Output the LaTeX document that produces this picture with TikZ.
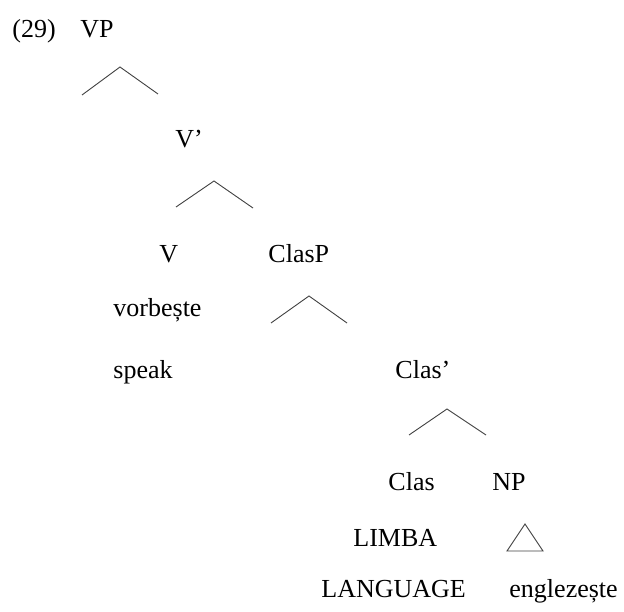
\documentclass[tikz,border=0pt]{standalone}
\usepackage{fontspec}
\setmainfont{Liberation Serif}
\begin{document}
\begin{tikzpicture}[
    x=1pt, y=-1pt,
    line width=0.9pt,
    color=black!75,
    every node/.style={text=black, font=\fontsize{26}{30}\selectfont, anchor=base west, inner sep=0pt}
]
    \useasboundingbox (0,0) rectangle (624,612);

    % Labels, placed at their baselines
    \node (ex)      at (12,38)   {(29)};
    \node (VP)      at (80,38)   {VP};
    \node (Vbar)    at (175,148) {V’};
    \node (V)       at (159,263) {V};
    \node (ClasP)   at (268,263) {ClasP};
    \node (vorb)    at (113,317) {vorbește};
    \node (speak)   at (113,378) {speak};
    \node (Clasbar) at (395,378) {Clas’};
    \node (Clas)    at (388,490) {Clas};
    \node (NP)      at (492,490) {NP};
    \node (limba)   at (353,546) {LIMBA};
    \node (lang)    at (321,597) {LANGUAGE};
    \node (engl)    at (509,597) {englezește};

    % Define Coordinates for the branchings
    \coordinate (aL) at (82,95);   \coordinate (aT) at (120,67);  \coordinate (aR) at (158,94);
    \coordinate (bL) at (176,207); \coordinate (bT) at (214,181); \coordinate (bR) at (253,208);
    \coordinate (cL) at (271,323); \coordinate (cT) at (309,296); \coordinate (cR) at (347,323);
    \coordinate (dL) at (409,435); \coordinate (dT) at (447,409); \coordinate (dR) at (486,435);

    % Draw Branchings
    \draw (aL) -- (aT) -- (aR);
    \draw (bL) -- (bT) -- (bR);
    \draw (cL) -- (cT) -- (cR);
    \draw (dL) -- (dT) -- (dR);

    % Triangle under NP
    \coordinate (tL) at (507,551); \coordinate (tT) at (525,524); \coordinate (tR) at (543,551);
    \draw (tL) -- (tT) -- (tR) -- cycle;

\end{tikzpicture}
\end{document}
